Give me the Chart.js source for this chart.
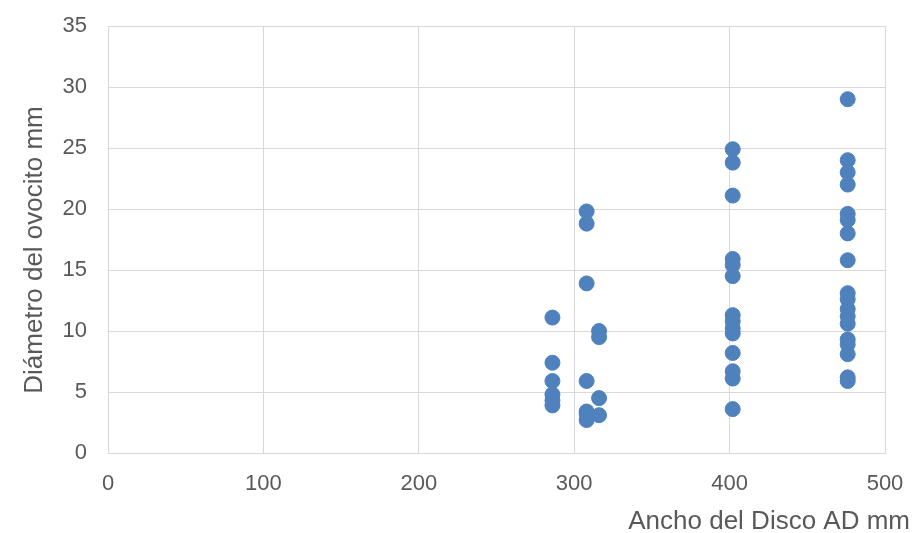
<!DOCTYPE html>
<html lang="es">
<head>
    <meta charset="UTF-8">
    <title>Diámetro del ovocito vs Ancho del Disco</title>
    <script src="https://cdn.jsdelivr.net/npm/chart.js"></script>
    <style>
        html, body { margin: 0; padding: 0; background: #ffffff; }
        #wrap { width: 914px; height: 533px; position: relative; }
    </style>
</head>
<body>
<div id="wrap"><canvas id="scatterChart"></canvas></div>

<script>
    // disc width (AD mm) for each group of measurements
    const discWidths = [286, 308, 316, 402, 476];

    // oocyte diameters (mm), one list per disc width
    const diam286 = [11.1, 7.4, 5.9, 4.8, 4.3, 3.9];
    const diam308 = [19.8, 18.8, 13.9, 5.9, 3.4, 3.2, 2.7];
    const diam316 = [10.0, 9.5, 4.5, 3.1];
    const diam402 = [24.9, 23.8, 21.1, 15.9, 15.4, 14.5, 11.3, 10.8, 10.2, 9.8, 8.2, 6.7, 6.1, 3.6];
    const diam476 = [29.0, 24.0, 23.0, 22.0, 19.6, 19.1, 18.0, 15.8, 13.1, 12.6, 11.8, 11.2, 10.6, 9.3, 8.9, 8.1, 6.2, 5.9];

    const xTitle = "Ancho del Disco AD mm";
    const yTitle = "Diámetro del ovocito mm";

    const groups = [diam286, diam308, diam316, diam402, diam476];
    const points = [];
    groups.forEach((list, i) => {
        list.forEach(v => points.push({ x: discWidths[i], y: v }));
    });

    const textColor = "#595959";
    const gridColor = "#d9d9d9";
    const fontFamily = "'Liberation Sans', Arial, sans-serif";

    // axis titles placed like the Excel chart (x title hangs right of the plot)
    const axisTitles = {
        id: "axisTitles",
        afterDraw(chart) {
            const ctx = chart.ctx;
            ctx.save();
            ctx.fillStyle = textColor;
            ctx.font = "26px " + fontFamily;
            ctx.textAlign = "right";
            ctx.textBaseline = "alphabetic";
            ctx.fillText(xTitle, 910, 529);

            ctx.translate(42, 250);
            ctx.rotate(-Math.PI / 2);
            ctx.textAlign = "center";
            ctx.fillText(yTitle, 0, 0);
            ctx.restore();
        }
    };

    new Chart(document.getElementById("scatterChart"), {
        type: "scatter",
        data: {
            datasets: [{
                label: yTitle,
                data: points,
                backgroundColor: "#4f81bd",
                borderColor: "#4f81bd",
                pointRadius: 7.5,
                pointHoverRadius: 7.5
            }]
        },
        options: {
            responsive: true,
            maintainAspectRatio: false,
            animation: false,
            layout: { padding: { top: 26, right: 29, left: 0, bottom: 0 } },
            plugins: {
                legend: { display: false },
                tooltip: { enabled: false }
            },
            scales: {
                x: {
                    type: "linear",
                    min: 0,
                    max: 500,
                    ticks: {
                        stepSize: 100,
                        color: textColor,
                        font: { family: fontFamily, size: 22 },
                        padding: 18,
                        maxRotation: 0
                    },
                    grid: { color: gridColor, drawTicks: false },
                    border: { color: gridColor },
                    afterFit(scale) {
                        scale.height = 80;
                        scale.paddingLeft = 0;
                        scale.paddingRight = 0;
                    }
                },
                y: {
                    min: 0,
                    max: 35,
                    ticks: {
                        stepSize: 5,
                        color: textColor,
                        font: { family: fontFamily, size: 22 },
                        padding: 21
                    },
                    grid: { color: gridColor, drawTicks: false },
                    border: { color: gridColor },
                    afterFit(scale) {
                        scale.width = 108;
                        scale.paddingTop = 0;
                        scale.paddingBottom = 0;
                    }
                }
            }
        },
        plugins: [axisTitles]
    });
</script>
</body>
</html>
